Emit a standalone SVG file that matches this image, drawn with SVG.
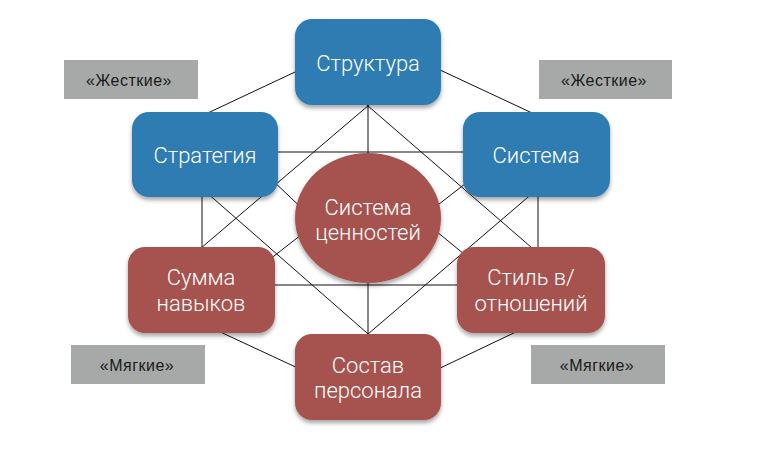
<svg xmlns="http://www.w3.org/2000/svg" width="770" height="459" viewBox="0 0 770 459">
<defs>
<filter id="sh" x="-20%" y="-20%" width="140%" height="150%">
<feDropShadow dx="0" dy="3" stdDeviation="2.2" flood-color="#000" flood-opacity="0.35"/>
</filter>
</defs>
<style>
.blue{fill:#2e7cb2;filter:url(#sh)}
.red{fill:#a6524f;filter:url(#sh)}
.gray{fill:#a6a9a7}
.t{font-family:Roboto,"Liberation Sans",sans-serif;font-weight:300;font-size:22px;fill:#fff;text-anchor:middle}
.g{font-family:"Liberation Sans",Arial,sans-serif;font-size:16px;letter-spacing:0.5px;fill:#1a1a1a;text-anchor:middle}
.c line{stroke:#111;stroke-width:1}
</style>
<rect width="770" height="459" fill="#fff"/>
<g id="connectors" class="c">
<line x1="305" y1="67.3" x2="200" y2="116.7"/>
<line x1="430" y1="65.3" x2="540" y2="116.7"/>
<line x1="376" y1="99" x2="194" y2="254"/>
<line x1="360" y1="99" x2="539" y2="254"/>
<line x1="368" y1="100" x2="368" y2="340"/>
<line x1="270" y1="152" x2="470" y2="152"/>
<line x1="268" y1="285" x2="466" y2="285"/>
<line x1="202" y1="190" x2="202" y2="255"/>
<line x1="538" y1="190" x2="538" y2="255"/>
<line x1="375" y1="340" x2="206" y2="192"/>
<line x1="361" y1="340" x2="534" y2="192"/>
<line x1="270" y1="178" x2="310" y2="216"/>
<line x1="265" y1="263" x2="310" y2="228"/>
<line x1="470" y1="180" x2="425" y2="215"/>
<line x1="470" y1="259" x2="425" y2="222"/>
<line x1="216" y1="330" x2="302" y2="370"/>
<line x1="520" y1="330" x2="434" y2="371"/>
</g>
<g id="hard-left"><rect class="gray" x="64" y="60" width="134" height="39"/><text class="g" x="129" y="86">«Жесткие»</text></g>
<g id="hard-right"><rect class="gray" x="539" y="60" width="133" height="39"/><text class="g" x="604" y="86">«Жесткие»</text></g>
<g id="soft-left"><rect class="gray" x="71" y="345" width="134" height="39"/><text class="g" x="137" y="371">«Мягкие»</text></g>
<g id="soft-right"><rect class="gray" x="531" y="345" width="134" height="39"/><text class="g" x="597" y="371">«Мягкие»</text></g>
<g id="structure"><rect class="blue" x="295" y="19" width="146" height="86" rx="17"/><text class="t" x="368" y="71">Структура</text></g>
<g id="strategy"><rect class="blue" x="132" y="112" width="146" height="85" rx="17"/><text class="t" x="205" y="163">Стратегия</text></g>
<g id="system"><rect class="blue" x="463" y="112" width="147" height="85" rx="17"/><text class="t" x="536" y="163">Система</text></g>
<g id="values"><ellipse class="red" cx="368" cy="218" rx="73" ry="65"/><text class="t" x="368" y="215">Система</text><text class="t" x="368" y="240">ценностей</text></g>
<g id="skills"><rect class="red" x="128" y="247" width="147" height="86" rx="17"/><text class="t" x="201" y="285">Сумма</text><text class="t" x="201" y="311">навыков</text></g>
<g id="style"><rect class="red" x="457" y="247" width="148" height="86" rx="17"/><text class="t" x="531" y="285">Стиль в/</text><text class="t" x="531" y="311">отношений</text></g>
<g id="staff"><rect class="red" x="295" y="334" width="146" height="86" rx="17"/><text class="t" x="368" y="373">Состав</text><text class="t" x="368" y="398">персонала</text></g>
</svg>
